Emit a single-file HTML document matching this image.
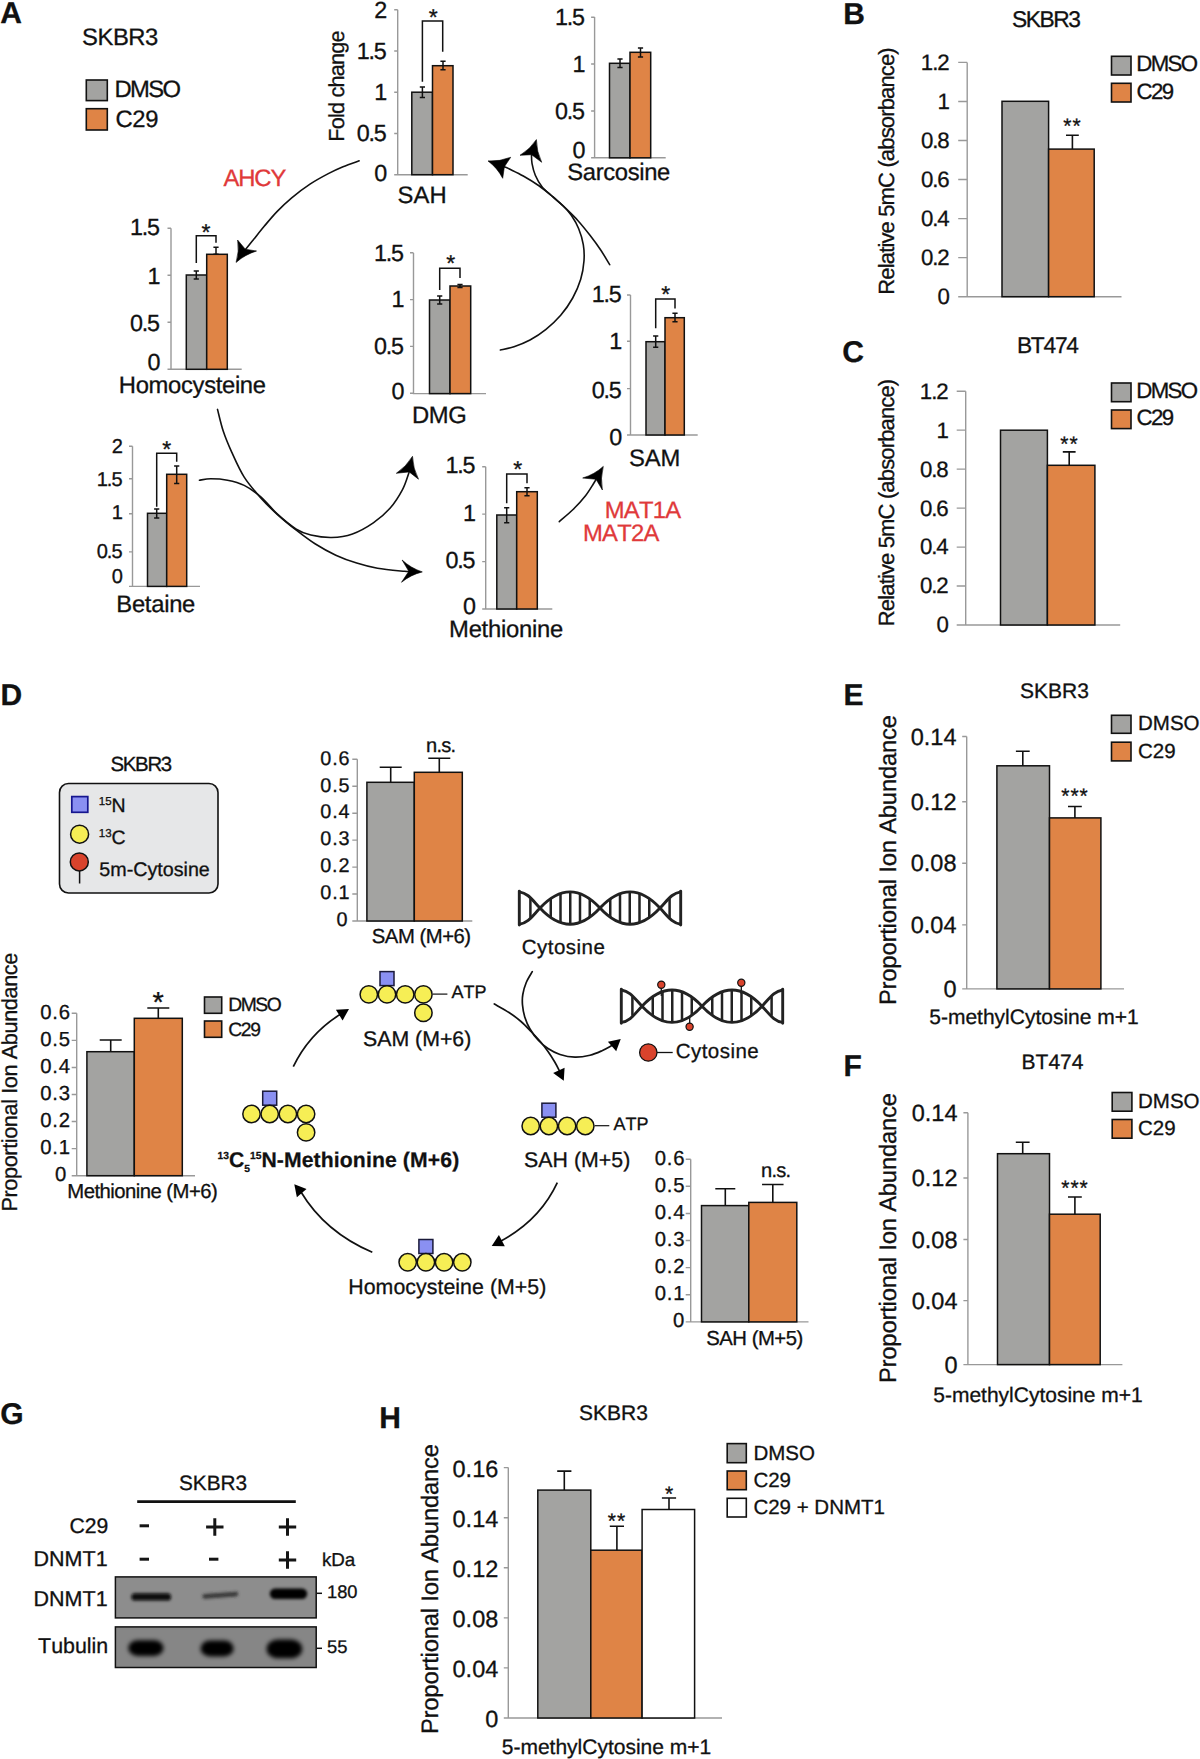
<!DOCTYPE html>
<html lang="en"><head><meta charset="utf-8"><title>Figure</title>
<style>
html,body{margin:0;padding:0;background:#fff}
svg{display:block}
svg text{font-family:"Liberation Sans", Arial, Helvetica, sans-serif;font-kerning:none;text-rendering:geometricPrecision}
</style></head><body>
<svg width="1200" height="1759" viewBox="0 0 1200 1759">
<rect width="1200" height="1759" fill="#fff"/>
<g id="panelA">
<text x="0.3" y="23" font-size="30" font-weight="bold" fill="#111" stroke="#111" stroke-width="0.3">A</text>
<text x="82.02" y="44.7" font-size="23.8" fill="#111" stroke="#111" stroke-width="0.3" letter-spacing="-0.43">SKBR3</text>
<rect x="86.3" y="80" width="21" height="20.6" fill="#a3a3a1" stroke="#111" stroke-width="1.6"/>
<rect x="86.3" y="108.7" width="21" height="21.3" fill="#df8446" stroke="#111" stroke-width="1.6"/>
<text x="114.45" y="96.9" font-size="23.8" fill="#111" stroke="#111" stroke-width="0.3" letter-spacing="-1.57">DMSO</text>
<text x="115.49" y="127.1" font-size="23.8" fill="#111" stroke="#111" stroke-width="0.3" letter-spacing="-0.36">C29</text>
<text x="223.45" y="185.9" font-size="23.8" fill="#e0393a" stroke="#e0393a" stroke-width="0.3" letter-spacing="-1.08">AHCY</text>
<text x="604.75" y="517.7" font-size="23.8" fill="#e0393a" stroke="#e0393a" stroke-width="0.3" letter-spacing="-0.76">MAT1A</text>
<text x="583.05" y="541" font-size="23.8" fill="#e0393a" stroke="#e0393a" stroke-width="0.3" letter-spacing="-0.76">MAT2A</text>
<path d="M397.7 9.8V174.7H467.7M394.2 9.8H397.7M394.2 51H397.7M394.2 92.2H397.7M394.2 133.5H397.7M394.2 174.7H397.7" stroke="#999" stroke-width="1.4" fill="none"/>
<rect x="411.8" y="92.2" width="20.7" height="82.5" fill="#a3a3a1" stroke="#111" stroke-width="1.5"/>
<rect x="432.5" y="65.7" width="20.5" height="109" fill="#df8446" stroke="#111" stroke-width="1.5"/>
<path d="M422.4 87V97.5M419.8 87H425M419.8 97.5H425" stroke="#111" stroke-width="1.5" fill="none"/>
<path d="M443 61.2V69.7M440.4 61.2H445.6M440.4 69.7H445.6" stroke="#111" stroke-width="1.5" fill="none"/>
<path d="M422.4 81.7V21H442.7V51.7" stroke="#111" stroke-width="1.5" fill="none"/>
<text x="428.72" y="24.59" font-size="23" fill="#111" stroke="#111" stroke-width="0.3">*</text>
<text x="374.23" y="18.2" font-size="23.33" fill="#111" stroke="#111" stroke-width="0.3">2</text>
<text x="356.67" y="59.2" font-size="23.33" fill="#111" stroke="#111" stroke-width="0.3" letter-spacing="-1.16">1.5</text>
<text x="374.21" y="100.2" font-size="23.33" fill="#111" stroke="#111" stroke-width="0.3">1</text>
<text x="356.74" y="141.2" font-size="23.33" fill="#111" stroke="#111" stroke-width="0.3" letter-spacing="-1.2">0.5</text>
<text x="374.23" y="181.2" font-size="23.33" fill="#111" stroke="#111" stroke-width="0.3">0</text>
<text x="397.62" y="202.7" font-size="23.8" fill="#111" stroke="#111" stroke-width="0.3" letter-spacing="0.04">SAH</text>
<text font-size="21.7" fill="#111" stroke="#111" stroke-width="0.3" letter-spacing="-0.8" transform="translate(344 140) rotate(-90)" x="-1.78" y="0">Fold change</text>
<path d="M594.6 16.9V157.8H665.7M591.1 17.2H594.6M591.1 64H594.6M591.1 111H594.6M591.1 157.8H594.6" stroke="#999" stroke-width="1.4" fill="none"/>
<rect x="609.5" y="63.3" width="20.5" height="94.5" fill="#a3a3a1" stroke="#111" stroke-width="1.5"/>
<rect x="630" y="52.3" width="20.7" height="105.5" fill="#df8446" stroke="#111" stroke-width="1.5"/>
<path d="M620 59V67.5M617.4 59H622.6M617.4 67.5H622.6" stroke="#111" stroke-width="1.5" fill="none"/>
<path d="M640.5 48V57M637.9 48H643.1M637.9 57H643.1" stroke="#111" stroke-width="1.5" fill="none"/>
<text x="554.97" y="24.9" font-size="23.33" fill="#111" stroke="#111" stroke-width="0.3" letter-spacing="-1.16">1.5</text>
<text x="572.51" y="71.7" font-size="23.33" fill="#111" stroke="#111" stroke-width="0.3">1</text>
<text x="555.04" y="119" font-size="23.33" fill="#111" stroke="#111" stroke-width="0.3" letter-spacing="-1.2">0.5</text>
<text x="572.53" y="158.2" font-size="23.33" fill="#111" stroke="#111" stroke-width="0.3">0</text>
<text x="567.22" y="180" font-size="23.8" fill="#111" stroke="#111" stroke-width="0.3" letter-spacing="-0.34">Sarcosine</text>
<path d="M171 228.3V369.3H241.7M167.5 228.3H171M167.5 275.3H171M167.5 322.3H171M167.5 369.3H171" stroke="#999" stroke-width="1.4" fill="none"/>
<rect x="186.3" y="275" width="20.4" height="94.3" fill="#a3a3a1" stroke="#111" stroke-width="1.5"/>
<rect x="206.7" y="254.3" width="20.6" height="115" fill="#df8446" stroke="#111" stroke-width="1.5"/>
<path d="M196.3 271V279M193.7 271H198.9M193.7 279H198.9" stroke="#111" stroke-width="1.5" fill="none"/>
<path d="M216 247.3V254.3M213.4 247.3H218.6M213.4 254.3H218.6" stroke="#111" stroke-width="1.5" fill="none"/>
<path d="M196.3 263V235.7H216V242.7" stroke="#111" stroke-width="1.5" fill="none"/>
<text x="201.52" y="239.59" font-size="23" fill="#111" stroke="#111" stroke-width="0.3">*</text>
<text x="129.97" y="235.4" font-size="23.33" fill="#111" stroke="#111" stroke-width="0.3" letter-spacing="-1.16">1.5</text>
<text x="147.51" y="283.7" font-size="23.33" fill="#111" stroke="#111" stroke-width="0.3">1</text>
<text x="130.04" y="331" font-size="23.33" fill="#111" stroke="#111" stroke-width="0.3" letter-spacing="-1.2">0.5</text>
<text x="147.53" y="370.4" font-size="23.33" fill="#111" stroke="#111" stroke-width="0.3">0</text>
<text x="118.85" y="392.6" font-size="23.8" fill="#111" stroke="#111" stroke-width="0.3" letter-spacing="-0.33">Homocysteine</text>
<path d="M413.5 252.9V393.6H486M410 252.7H413.5M410 299.6H413.5M410 346.4H413.5M410 393.3H413.5" stroke="#999" stroke-width="1.4" fill="none"/>
<rect x="429.5" y="300" width="20.5" height="93.6" fill="#a3a3a1" stroke="#111" stroke-width="1.5"/>
<rect x="450" y="286" width="20.7" height="107.6" fill="#df8446" stroke="#111" stroke-width="1.5"/>
<path d="M439.7 296V304M437.1 296H442.3M437.1 304H442.3" stroke="#111" stroke-width="1.5" fill="none"/>
<path d="M460 284.5V287.5M457.4 284.5H462.6M457.4 287.5H462.6" stroke="#111" stroke-width="1.5" fill="none"/>
<path d="M439.7 290V268.3H460V278" stroke="#111" stroke-width="1.5" fill="none"/>
<text x="446.22" y="271.09" font-size="23" fill="#111" stroke="#111" stroke-width="0.3">*</text>
<text x="373.97" y="260.7" font-size="23.33" fill="#111" stroke="#111" stroke-width="0.3" letter-spacing="-1.16">1.5</text>
<text x="391.51" y="307" font-size="23.33" fill="#111" stroke="#111" stroke-width="0.3">1</text>
<text x="374.04" y="353.7" font-size="23.33" fill="#111" stroke="#111" stroke-width="0.3" letter-spacing="-1.2">0.5</text>
<text x="391.53" y="399.4" font-size="23.33" fill="#111" stroke="#111" stroke-width="0.3">0</text>
<text x="412.05" y="423.3" font-size="23.8" fill="#111" stroke="#111" stroke-width="0.3" letter-spacing="-0.4">DMG</text>
<path d="M630.5 295V435H697.7M627 295H630.5M627 341.3H630.5M627 388.6H630.5M627 435H630.5" stroke="#999" stroke-width="1.4" fill="none"/>
<rect x="646" y="341.7" width="19" height="93.3" fill="#a3a3a1" stroke="#111" stroke-width="1.5"/>
<rect x="665" y="317.7" width="19.3" height="117.3" fill="#df8446" stroke="#111" stroke-width="1.5"/>
<path d="M655.7 336V347.3M653.1 336H658.3M653.1 347.3H658.3" stroke="#111" stroke-width="1.5" fill="none"/>
<path d="M675 313.3V321.7M672.4 313.3H677.6M672.4 321.7H677.6" stroke="#111" stroke-width="1.5" fill="none"/>
<path d="M655.7 328.3V299H675V308.5" stroke="#111" stroke-width="1.5" fill="none"/>
<text x="661.22" y="301.59" font-size="23" fill="#111" stroke="#111" stroke-width="0.3">*</text>
<text x="591.67" y="301.7" font-size="23.33" fill="#111" stroke="#111" stroke-width="0.3" letter-spacing="-1.16">1.5</text>
<text x="609.21" y="349" font-size="23.33" fill="#111" stroke="#111" stroke-width="0.3">1</text>
<text x="591.74" y="397.7" font-size="23.33" fill="#111" stroke="#111" stroke-width="0.3" letter-spacing="-1.2">0.5</text>
<text x="609.23" y="445" font-size="23.33" fill="#111" stroke="#111" stroke-width="0.3">0</text>
<text x="628.92" y="465.5" font-size="23.8" fill="#111" stroke="#111" stroke-width="0.3" letter-spacing="-0.12">SAM</text>
<path d="M485.7 466.7V609H552.3M482.2 466.7H485.7M482.2 514.1H485.7M482.2 561.6H485.7M482.2 609H485.7" stroke="#999" stroke-width="1.4" fill="none"/>
<rect x="496.8" y="515" width="19.9" height="94" fill="#a3a3a1" stroke="#111" stroke-width="1.5"/>
<rect x="516.7" y="491.7" width="20.6" height="117.3" fill="#df8446" stroke="#111" stroke-width="1.5"/>
<path d="M506.7 507.7V522.7M504.1 507.7H509.3M504.1 522.7H509.3" stroke="#111" stroke-width="1.5" fill="none"/>
<path d="M527 487.7V495.7M524.4 487.7H529.6M524.4 495.7H529.6" stroke="#111" stroke-width="1.5" fill="none"/>
<path d="M506.7 503.3V474H527V483.3" stroke="#111" stroke-width="1.5" fill="none"/>
<text x="513.22" y="476.59" font-size="23" fill="#111" stroke="#111" stroke-width="0.3">*</text>
<text x="445.47" y="472.7" font-size="23.33" fill="#111" stroke="#111" stroke-width="0.3" letter-spacing="-1.16">1.5</text>
<text x="463.01" y="521" font-size="23.33" fill="#111" stroke="#111" stroke-width="0.3">1</text>
<text x="445.54" y="567.7" font-size="23.33" fill="#111" stroke="#111" stroke-width="0.3" letter-spacing="-1.2">0.5</text>
<text x="463.03" y="613.7" font-size="23.33" fill="#111" stroke="#111" stroke-width="0.3">0</text>
<text x="449.05" y="636.7" font-size="23.8" fill="#111" stroke="#111" stroke-width="0.3" letter-spacing="-0.24">Methionine</text>
<path d="M132.5 446.3V586.4H200M129 446.3H132.5M129 478.8H132.5M129 513.8H132.5M129 551.9H132.5M129 586.4H132.5" stroke="#999" stroke-width="1.4" fill="none"/>
<rect x="147.5" y="513.3" width="19.2" height="73.1" fill="#a3a3a1" stroke="#111" stroke-width="1.5"/>
<rect x="166.7" y="474.3" width="20" height="112.1" fill="#df8446" stroke="#111" stroke-width="1.5"/>
<path d="M156.7 509V518M154.1 509H159.3M154.1 518H159.3" stroke="#111" stroke-width="1.5" fill="none"/>
<path d="M176.7 466V483.5M174.1 466H179.3M174.1 483.5H179.3" stroke="#111" stroke-width="1.5" fill="none"/>
<path d="M156.7 506.7V453.3H176.7V461.7" stroke="#111" stroke-width="1.5" fill="none"/>
<text x="162.22" y="456.79" font-size="23" fill="#111" stroke="#111" stroke-width="0.3">*</text>
<text x="111.77" y="453.32" font-size="20.07" fill="#111" stroke="#111" stroke-width="0.3">2</text>
<text x="96.66" y="485.92" font-size="20.07" fill="#111" stroke="#111" stroke-width="0.3" letter-spacing="-1">1.5</text>
<text x="111.75" y="518.82" font-size="20.07" fill="#111" stroke="#111" stroke-width="0.3">1</text>
<text x="96.72" y="558.32" font-size="20.07" fill="#111" stroke="#111" stroke-width="0.3" letter-spacing="-1.03">0.5</text>
<text x="111.77" y="583.12" font-size="20.07" fill="#111" stroke="#111" stroke-width="0.3">0</text>
<text x="116.35" y="612.3" font-size="23.8" fill="#111" stroke="#111" stroke-width="0.3" letter-spacing="-0.29">Betaine</text>
<path d="M359.1 160.8C356.42 161.78 348.13 164.57 343 166.7C337.87 168.83 333.8 170.7 328.3 173.6C322.8 176.5 316.1 180.07 310 184.1C303.9 188.13 297.2 193.22 291.7 197.8C286.2 202.38 281.58 206.85 277 211.6C272.42 216.35 268.17 221.57 264.2 226.3C260.23 231.03 256.32 236.13 253.2 240C250.08 243.87 246.78 247.92 245.5 249.5" stroke="#111" stroke-width="1.6" fill="none" stroke-linecap="round"/>
<path d="M236.1 262.4Q239.47 251.17 237.6 240L245.3 249.2L256.5 251Q245.14 254.47 236.1 262.4Z" fill="#000" stroke="#000" stroke-width="0.6" stroke-linejoin="round"/>
<path d="M217.5 409.4C218.47 413.05 220.93 424.18 223.3 431.3C225.67 438.42 228.22 444.47 231.7 452.1C235.18 459.73 239.35 469.47 244.2 477.1C249.05 484.73 255.25 491.65 260.8 497.9C266.35 504.15 271.58 509.22 277.5 514.6C283.42 519.98 290.05 525.33 296.3 530.2C302.55 535.07 308.42 539.63 315 543.8C321.58 547.97 328.85 551.98 335.8 555.2C342.75 558.42 349.75 560.92 356.7 563.1C363.65 565.28 369.52 566.93 377.5 568.3C385.48 569.67 399.35 570.78 404.6 571.3C409.85 571.82 408.27 571.38 409 571.4" stroke="#111" stroke-width="1.6" fill="none" stroke-linecap="round"/>
<path d="M422.3 571.9Q410.77 568.13 402.1 560L408.8 571.3L401.5 582.3Q410.59 574.82 422.3 571.9Z" fill="#000" stroke="#000" stroke-width="0.6" stroke-linejoin="round"/>
<path d="M199.4 480.2C201.3 479.97 206.12 478.8 210.8 478.8C215.48 478.8 221.93 479.1 227.5 480.2C233.07 481.3 238.65 482.62 244.2 485.4C249.75 488.18 255.25 492.1 260.8 496.9C266.35 501.7 271.58 508.82 277.5 514.2C283.42 519.58 290.75 525.73 296.3 529.2C301.85 532.67 304.9 533.62 310.8 535C316.7 536.38 324.75 537.67 331.7 537.5C338.65 537.33 345.57 536.43 352.5 534C359.43 531.57 367.05 527.18 373.3 522.9C379.55 518.62 385.13 513.85 390 508.3C394.87 502.75 399.33 495.57 402.5 489.6C405.67 483.63 407.92 475.35 409 472.5" stroke="#111" stroke-width="1.6" fill="none" stroke-linecap="round"/>
<path d="M412.5 456.3Q406.28 466.72 396.3 473.3L409.2 471.9L418.5 479.2Q412.94 468.49 412.5 456.3Z" fill="#000" stroke="#000" stroke-width="0.6" stroke-linejoin="round"/>
<path d="M500.4 350C502.67 349.45 509.07 348.37 514 346.7C518.93 345.03 524.67 342.9 530 340C535.33 337.1 540.88 333.42 546 329.3C551.12 325.18 556.25 320.52 560.7 315.3C565.15 310.08 569.37 304 572.7 298C576.03 292 578.82 285.52 580.7 279.3C582.58 273.08 583.57 266.47 584 260.7C584.43 254.93 584.18 250.03 583.3 244.7C582.42 239.37 580.7 233.6 578.7 228.7C576.7 223.8 573.87 219.08 571.3 215.3C568.73 211.52 566.4 209.1 563.3 206C560.2 202.9 556.25 199.92 552.7 196.7C549.15 193.48 544.9 190.27 542 186.7C539.1 183.13 536.97 179.2 535.3 175.3C533.63 171.4 532.63 166.68 532 163.3C531.37 159.92 531.58 156.38 531.5 155" stroke="#111" stroke-width="1.6" fill="none" stroke-linecap="round"/>
<path d="M536.4 139.6Q530 149.43 520 155.3L531.6 154.7L541.7 162.3Q536.51 151.53 536.4 139.6Z" fill="#000" stroke="#000" stroke-width="0.6" stroke-linejoin="round"/>
<path d="M609.7 264.7C608.2 262.25 603.98 254.9 600.7 250C597.42 245.1 593.78 240.18 590 235.3C586.22 230.42 582 225.13 578 220.7C574 216.27 570.22 212.7 566 208.7C561.78 204.7 557.15 200.48 552.7 196.7C548.25 192.92 544.2 189.45 539.3 186C534.4 182.55 528.18 178.78 523.3 176C518.42 173.22 513.18 170.85 510 169.3C506.82 167.75 505.17 167.13 504.2 166.7" stroke="#111" stroke-width="1.6" fill="none" stroke-linecap="round"/>
<path d="M488 160.9Q499.8 161.66 510.7 157.3L504.4 166.7L502.7 178.3Q497.4 167.96 488 160.9Z" fill="#000" stroke="#000" stroke-width="0.6" stroke-linejoin="round"/>
<path d="M559.3 521.6C561.63 519.55 568.97 513.57 573.3 509.3C577.63 505.03 581.97 500.22 585.3 496C588.63 491.78 591.52 486.75 593.3 484C595.08 481.25 595.55 480.25 596 479.5" stroke="#111" stroke-width="1.6" fill="none" stroke-linecap="round"/>
<path d="M603.3 466.4Q594.25 474.57 582.7 478L596 479.3L602.4 490Q600.16 478.17 603.3 466.4Z" fill="#000" stroke="#000" stroke-width="0.6" stroke-linejoin="round"/>
</g>
<g id="panelBC">
<text x="843.3" y="24" font-size="30" font-weight="bold" fill="#111" stroke="#111" stroke-width="0.3">B</text>
<text x="1011.99" y="27" font-size="22.79" fill="#111" stroke="#111" stroke-width="0.3" letter-spacing="-1.42">SKBR3</text>
<path d="M967.2 62.4V296.7H1121.5M958.2 62.4H967.2M958.2 101.45H967.2M958.2 140.5H967.2M958.2 179.55H967.2M958.2 218.6H967.2M958.2 257.65H967.2M958.2 296.7H967.2" stroke="#999" stroke-width="1.4" fill="none"/>
<text x="920.87" y="69.8" font-size="22.24" fill="#111" stroke="#111" stroke-width="0.3" letter-spacing="-1.1">1.2</text>
<text x="937.59" y="108.85" font-size="22.24" fill="#111" stroke="#111" stroke-width="0.3">1</text>
<text x="920.93" y="147.9" font-size="22.24" fill="#111" stroke="#111" stroke-width="0.3" letter-spacing="-1.14">0.8</text>
<text x="920.93" y="186.95" font-size="22.24" fill="#111" stroke="#111" stroke-width="0.3" letter-spacing="-1.14">0.6</text>
<text x="920.93" y="226" font-size="22.24" fill="#111" stroke="#111" stroke-width="0.3" letter-spacing="-1.15">0.4</text>
<text x="920.93" y="265.05" font-size="22.24" fill="#111" stroke="#111" stroke-width="0.3" letter-spacing="-1.13">0.2</text>
<text x="937.61" y="304.1" font-size="22.24" fill="#111" stroke="#111" stroke-width="0.3">0</text>
<rect x="1002" y="101.3" width="46.6" height="195.4" fill="#a3a3a1" stroke="#111" stroke-width="1.5"/>
<rect x="1048.6" y="149.1" width="45.6" height="147.6" fill="#df8446" stroke="#111" stroke-width="1.5"/>
<path d="M1072.4 149.1V135.2M1066 135.2H1078.8" stroke="#111" stroke-width="1.6" fill="none"/>
<text x="1063.23" y="132.56" font-size="21" fill="#111" letter-spacing="1" stroke="#111" stroke-width="0.3">**</text>
<rect x="1111.5" y="56.3" width="19.5" height="18.7" fill="#a3a3a1" stroke="#111" stroke-width="1.6"/>
<rect x="1111.5" y="83.3" width="19.5" height="18.7" fill="#df8446" stroke="#111" stroke-width="1.6"/>
<text x="1136.36" y="71.2" font-size="22.24" fill="#111" stroke="#111" stroke-width="0.3" letter-spacing="-1.67">DMSO</text>
<text x="1136.41" y="98.8" font-size="22.24" fill="#111" stroke="#111" stroke-width="0.3" letter-spacing="-1.51">C29</text>
<text x="-123.69" y="0" font-size="22.03" fill="#111" stroke="#111" stroke-width="0.3" letter-spacing="-0.86" transform="translate(893.5 171) rotate(-90)">Relative 5mC (absorbance)</text>
<text x="842.3" y="361.6" font-size="30" font-weight="bold" fill="#111" stroke="#111" stroke-width="0.3">C</text>
<text x="1016.92" y="353.2" font-size="22.79" fill="#111" stroke="#111" stroke-width="0.3" letter-spacing="-1.27">BT474</text>
<path d="M965.7 391.2V625H1120.2M956.7 391.2H965.7M956.7 430.17H965.7M956.7 469.14H965.7M956.7 508.11H965.7M956.7 547.08H965.7M956.7 586.05H965.7M956.7 625.02H965.7" stroke="#999" stroke-width="1.4" fill="none"/>
<text x="919.87" y="398.6" font-size="22.24" fill="#111" stroke="#111" stroke-width="0.3" letter-spacing="-1.1">1.2</text>
<text x="936.59" y="437.57" font-size="22.24" fill="#111" stroke="#111" stroke-width="0.3">1</text>
<text x="919.93" y="476.54" font-size="22.24" fill="#111" stroke="#111" stroke-width="0.3" letter-spacing="-1.14">0.8</text>
<text x="919.93" y="515.51" font-size="22.24" fill="#111" stroke="#111" stroke-width="0.3" letter-spacing="-1.14">0.6</text>
<text x="919.93" y="554.48" font-size="22.24" fill="#111" stroke="#111" stroke-width="0.3" letter-spacing="-1.15">0.4</text>
<text x="919.93" y="593.45" font-size="22.24" fill="#111" stroke="#111" stroke-width="0.3" letter-spacing="-1.13">0.2</text>
<text x="936.61" y="632.42" font-size="22.24" fill="#111" stroke="#111" stroke-width="0.3">0</text>
<rect x="1000.5" y="430.2" width="46.9" height="194.8" fill="#a3a3a1" stroke="#111" stroke-width="1.5"/>
<rect x="1047.4" y="465.3" width="47.5" height="159.7" fill="#df8446" stroke="#111" stroke-width="1.5"/>
<path d="M1069.2 465.3V451.9M1062.8 451.9H1075.6" stroke="#111" stroke-width="1.6" fill="none"/>
<text x="1060.33" y="451.06" font-size="21" fill="#111" letter-spacing="1" stroke="#111" stroke-width="0.3">**</text>
<rect x="1111.5" y="383" width="19.5" height="18.7" fill="#a3a3a1" stroke="#111" stroke-width="1.6"/>
<rect x="1111.5" y="410" width="19.5" height="18.6" fill="#df8446" stroke="#111" stroke-width="1.6"/>
<text x="1136.36" y="398.2" font-size="22.24" fill="#111" stroke="#111" stroke-width="0.3" letter-spacing="-1.67">DMSO</text>
<text x="1136.41" y="425.4" font-size="22.24" fill="#111" stroke="#111" stroke-width="0.3" letter-spacing="-1.51">C29</text>
<text x="-123.69" y="0" font-size="22.03" fill="#111" stroke="#111" stroke-width="0.3" letter-spacing="-0.86" transform="translate(893.5 502.5) rotate(-90)">Relative 5mC (absorbance)</text>
</g>
<g id="panelD">
<text x="0.5" y="705.3" font-size="30" font-weight="bold" fill="#111" stroke="#111" stroke-width="0.3">D</text>
<text x="110.4" y="771" font-size="20.4" fill="#111" stroke="#111" stroke-width="0.3" letter-spacing="-1.27">SKBR3</text>
<rect x="59.5" y="783.5" width="158.5" height="109.5" rx="9" ry="9" fill="#e6e7e8" stroke="#111" stroke-width="1.6"/>
<rect x="71.8" y="796.6" width="16" height="15.7" fill="#8a90f2" stroke="#16168f" stroke-width="1.7"/>
<circle cx="79.6" cy="834.2" r="9" fill="#f6ee55" stroke="#111" stroke-width="1.5"/>
<line x1="79.6" y1="870" x2="79.6" y2="883.5" stroke="#111" stroke-width="1.5"/>
<circle cx="79.3" cy="861.9" r="9" fill="#d9432c" stroke="#111" stroke-width="1.5"/>
<text x="98.8" y="811.7" font-size="19.5" fill="#111" stroke="#111" stroke-width="0.3"><tspan font-size="11.5" dy="-7">15</tspan><tspan dy="7">N</tspan></text>
<text x="98.8" y="844" font-size="19.5" fill="#111" stroke="#111" stroke-width="0.3"><tspan font-size="11.5" dy="-7">13</tspan><tspan dy="7">C</tspan></text>
<text x="99.3" y="875.5" font-size="19.7" fill="#111" stroke="#111" stroke-width="0.3">5m-Cytosine</text>
<path d="M357.3 759.3V921H472.3M352.3 759.3H357.3M352.3 786.25H357.3M352.3 813.2H357.3M352.3 840.15H357.3M352.3 867.1H357.3M352.3 894.05H357.3M352.3 921H357.3" stroke="#999" stroke-width="1.4" fill="none"/>
<rect x="366.9" y="782.3" width="47.4" height="138.7" fill="#a3a3a1" stroke="#111" stroke-width="1.5"/>
<rect x="414.3" y="772.3" width="48" height="148.7" fill="#df8446" stroke="#111" stroke-width="1.5"/>
<path d="M390.7 782.3V767.3M379.7 767.3H401.7" stroke="#111" stroke-width="1.6" fill="none"/>
<path d="M439.3 772.3V758.3M428.3 758.3H450.3" stroke="#111" stroke-width="1.6" fill="none"/>
<text x="320.35" y="764.55" font-size="19.82" fill="#111" stroke="#111" stroke-width="0.3" letter-spacing="0.77">0.6</text>
<text x="320.35" y="791.5" font-size="19.82" fill="#111" stroke="#111" stroke-width="0.3" letter-spacing="0.77">0.5</text>
<text x="320.35" y="818.45" font-size="19.82" fill="#111" stroke="#111" stroke-width="0.3" letter-spacing="0.78">0.4</text>
<text x="320.35" y="845.4" font-size="19.82" fill="#111" stroke="#111" stroke-width="0.3" letter-spacing="0.77">0.3</text>
<text x="320.35" y="872.35" font-size="19.82" fill="#111" stroke="#111" stroke-width="0.3" letter-spacing="0.76">0.2</text>
<text x="320.35" y="899.3" font-size="19.82" fill="#111" stroke="#111" stroke-width="0.3" letter-spacing="0.77">0.1</text>
<text x="336.45" y="926.25" font-size="19.82" fill="#111" stroke="#111" stroke-width="0.3">0</text>
<text x="371.78" y="942.7" font-size="20.3" fill="#111" stroke="#111" stroke-width="0.3" letter-spacing="-0.47">SAM (M+6)</text>
<text x="425.99" y="751.7" font-size="20.07" fill="#111" stroke="#111" stroke-width="0.3" letter-spacing="-0.76">n.s.</text>
<path d="M76.7 1013.3V1175.7H195M71.7 1013.3H76.7M71.7 1040.37H76.7M71.7 1067.43H76.7M71.7 1094.5H76.7M71.7 1121.57H76.7M71.7 1148.63H76.7M71.7 1175.7H76.7" stroke="#999" stroke-width="1.4" fill="none"/>
<rect x="86.9" y="1051.7" width="47.4" height="124" fill="#a3a3a1" stroke="#111" stroke-width="1.5"/>
<rect x="134.3" y="1018.3" width="48" height="157.4" fill="#df8446" stroke="#111" stroke-width="1.5"/>
<path d="M110.7 1051.7V1040M99.7 1040H121.7" stroke="#111" stroke-width="1.6" fill="none"/>
<path d="M158.3 1018.3V1008M147.3 1008H169.3" stroke="#111" stroke-width="1.6" fill="none"/>
<text x="40.16" y="1018.67" font-size="20.3" fill="#111" stroke="#111" stroke-width="0.3" letter-spacing="0.79">0.6</text>
<text x="40.16" y="1045.74" font-size="20.3" fill="#111" stroke="#111" stroke-width="0.3" letter-spacing="0.79">0.5</text>
<text x="40.16" y="1072.81" font-size="20.3" fill="#111" stroke="#111" stroke-width="0.3" letter-spacing="0.8">0.4</text>
<text x="40.16" y="1099.88" font-size="20.3" fill="#111" stroke="#111" stroke-width="0.3" letter-spacing="0.79">0.3</text>
<text x="40.16" y="1126.94" font-size="20.3" fill="#111" stroke="#111" stroke-width="0.3" letter-spacing="0.78">0.2</text>
<text x="40.16" y="1154.01" font-size="20.3" fill="#111" stroke="#111" stroke-width="0.3" letter-spacing="0.78">0.1</text>
<text x="55.08" y="1181.08" font-size="20.3" fill="#111" stroke="#111" stroke-width="0.3">0</text>
<text x="67.33" y="1198.3" font-size="20.3" fill="#111" stroke="#111" stroke-width="0.3" letter-spacing="-0.53">Methionine (M+6)</text>
<text x="152.56" y="1011.86" font-size="29" fill="#111" stroke="#111" stroke-width="0.3">*</text>
<text font-size="21.7" fill="#111" stroke="#111" stroke-width="0.3" letter-spacing="-0.4" transform="translate(17.2 1209.8) rotate(-90)" x="-1.78" y="0">Proportional Ion Abundance</text>
<rect x="204.5" y="997" width="17.2" height="16.3" fill="#a3a3a1" stroke="#111" stroke-width="1.6"/>
<rect x="204.5" y="1021" width="17.2" height="16.3" fill="#df8446" stroke="#111" stroke-width="1.6"/>
<text x="228.18" y="1011" font-size="19.31" fill="#111" stroke="#111" stroke-width="0.3" letter-spacing="-1.45">DMSO</text>
<text x="228.22" y="1035.7" font-size="19.31" fill="#111" stroke="#111" stroke-width="0.3" letter-spacing="-1.31">C29</text>
<path d="M690.7 1159.2V1321.9H808.5M685.7 1159.2H690.7M685.7 1186.32H690.7M685.7 1213.43H690.7M685.7 1240.55H690.7M685.7 1267.67H690.7M685.7 1294.78H690.7M685.7 1321.9H690.7" stroke="#999" stroke-width="1.4" fill="none"/>
<rect x="701.5" y="1205.6" width="47.3" height="116.3" fill="#a3a3a1" stroke="#111" stroke-width="1.5"/>
<rect x="748.8" y="1202.4" width="48" height="119.5" fill="#df8446" stroke="#111" stroke-width="1.5"/>
<path d="M725.3 1205.6V1188.8M715.3 1188.8H735.3" stroke="#111" stroke-width="1.6" fill="none"/>
<path d="M772.8 1202.4V1184.5M762.05 1184.5H783.55" stroke="#111" stroke-width="1.6" fill="none"/>
<text x="654.66" y="1164.58" font-size="20.3" fill="#111" stroke="#111" stroke-width="0.3" letter-spacing="0.79">0.6</text>
<text x="654.66" y="1191.69" font-size="20.3" fill="#111" stroke="#111" stroke-width="0.3" letter-spacing="0.79">0.5</text>
<text x="654.66" y="1218.81" font-size="20.3" fill="#111" stroke="#111" stroke-width="0.3" letter-spacing="0.8">0.4</text>
<text x="654.66" y="1245.93" font-size="20.3" fill="#111" stroke="#111" stroke-width="0.3" letter-spacing="0.79">0.3</text>
<text x="654.66" y="1273.04" font-size="20.3" fill="#111" stroke="#111" stroke-width="0.3" letter-spacing="0.78">0.2</text>
<text x="654.66" y="1300.16" font-size="20.3" fill="#111" stroke="#111" stroke-width="0.3" letter-spacing="0.78">0.1</text>
<text x="672.88" y="1327.28" font-size="20.3" fill="#111" stroke="#111" stroke-width="0.3">0</text>
<text x="706.28" y="1344.8" font-size="20.3" fill="#111" stroke="#111" stroke-width="0.3" letter-spacing="-0.48">SAH (M+5)</text>
<text x="760.99" y="1176.5" font-size="20.07" fill="#111" stroke="#111" stroke-width="0.3" letter-spacing="-0.76">n.s.</text>
<rect x="380" y="971.6" width="14" height="14" fill="#8a90f2" stroke="#1a1a3a" stroke-width="1.5"/>
<circle cx="423.4" cy="1012.8" r="8.7" fill="#f6ee55" stroke="#111" stroke-width="1.5"/>
<circle cx="368.8" cy="994.4" r="8.7" fill="#f6ee55" stroke="#111" stroke-width="1.5"/>
<circle cx="387" cy="994.4" r="8.7" fill="#f6ee55" stroke="#111" stroke-width="1.5"/>
<circle cx="405.2" cy="994.4" r="8.7" fill="#f6ee55" stroke="#111" stroke-width="1.5"/>
<circle cx="423.4" cy="994.4" r="8.7" fill="#f6ee55" stroke="#111" stroke-width="1.5"/>
<line x1="432.8" y1="994.1" x2="447.4" y2="994.1" stroke="#111" stroke-width="1.2"/>
<text x="451.5" y="998" font-size="18" fill="#111" stroke="#111" stroke-width="0.3">ATP</text>
<text x="363.03" y="1046.2" font-size="21.3" fill="#111" stroke="#111" stroke-width="0.3">SAM (M+6)</text>
<rect x="262.7" y="1091.2" width="14" height="14" fill="#8a90f2" stroke="#1a1a3a" stroke-width="1.5"/>
<circle cx="306.1" cy="1132.4" r="8.7" fill="#f6ee55" stroke="#111" stroke-width="1.5"/>
<circle cx="251.5" cy="1114" r="8.7" fill="#f6ee55" stroke="#111" stroke-width="1.5"/>
<circle cx="269.7" cy="1114" r="8.7" fill="#f6ee55" stroke="#111" stroke-width="1.5"/>
<circle cx="287.9" cy="1114" r="8.7" fill="#f6ee55" stroke="#111" stroke-width="1.5"/>
<circle cx="306.1" cy="1114" r="8.7" fill="#f6ee55" stroke="#111" stroke-width="1.5"/>
<text x="217.5" y="1167.3" font-size="21.2" font-weight="bold" fill="#111" stroke="#111" stroke-width="0.25"><tspan font-size="10.3" dy="-8.8">13</tspan><tspan dy="8.8">C</tspan><tspan font-size="10.3" dy="4.6">5</tspan><tspan font-size="10.3" dy="-13.4">15</tspan><tspan dy="8.8" x="261.38" letter-spacing="0.11">N-Methionine (M+6)</tspan></text>
<rect x="541.9" y="1103.2" width="14" height="14" fill="#8a90f2" stroke="#1a1a3a" stroke-width="1.5"/>
<circle cx="530.7" cy="1126" r="8.7" fill="#f6ee55" stroke="#111" stroke-width="1.5"/>
<circle cx="548.9" cy="1126" r="8.7" fill="#f6ee55" stroke="#111" stroke-width="1.5"/>
<circle cx="567.1" cy="1126" r="8.7" fill="#f6ee55" stroke="#111" stroke-width="1.5"/>
<circle cx="585.3" cy="1126" r="8.7" fill="#f6ee55" stroke="#111" stroke-width="1.5"/>
<line x1="594.7" y1="1125.7" x2="609.3" y2="1125.7" stroke="#111" stroke-width="1.2"/>
<text x="613.4" y="1129.6" font-size="18" fill="#111" stroke="#111" stroke-width="0.3">ATP</text>
<text x="524.03" y="1166.8" font-size="21.3" fill="#111" stroke="#111" stroke-width="0.3" letter-spacing="0.05">SAH (M+5)</text>
<rect x="418.9" y="1239.5" width="14" height="14" fill="#8a90f2" stroke="#1a1a3a" stroke-width="1.5"/>
<circle cx="407.7" cy="1262.3" r="8.7" fill="#f6ee55" stroke="#111" stroke-width="1.5"/>
<circle cx="425.9" cy="1262.3" r="8.7" fill="#f6ee55" stroke="#111" stroke-width="1.5"/>
<circle cx="444.1" cy="1262.3" r="8.7" fill="#f6ee55" stroke="#111" stroke-width="1.5"/>
<circle cx="462.3" cy="1262.3" r="8.7" fill="#f6ee55" stroke="#111" stroke-width="1.5"/>
<text x="348.25" y="1294.3" font-size="21.3" fill="#111" stroke="#111" stroke-width="0.3" letter-spacing="0.06">Homocysteine (M+5)</text>
<path d="M519.3 891.9C528.3 893.1 532.5 900.3 540 908.1C560 929.7 580 929.7 600 908.1C620 886.5 640 886.5 660 908.1C667.5 915.9 671.7 923.1 680.7 924.3" stroke="#222" stroke-width="2.9" fill="none"/>
<path d="M519.3 924.3C528.3 923.1 532.5 915.9 540 908.1C560 886.5 580 886.5 600 908.1C620 929.7 640 929.7 660 908.1C667.5 900.3 671.7 893.1 680.7 891.9" stroke="#222" stroke-width="2.9" fill="none"/>
<path d="M519.3 891.1V925.1M680.7 891.1V925.1" stroke="#222" stroke-width="2.9" fill="none" stroke-linecap="round"/>
<path d="M550.75 898.57V917.63M560.5 893.52V922.68M570.25 891.9V924.3M580 893.7V922.5M589.75 898.92V917.28M610.25 898.92V917.28M620 893.7V922.5M629.75 891.9V924.3M639.5 893.52V922.68M649.25 898.57V917.63M530.4 898.5V917.7M669.6 898.5V917.7" stroke="#222" stroke-width="2.5" fill="none"/>
<text x="521.66" y="954.3" font-size="20.5" fill="#111" stroke="#111" stroke-width="0.3" letter-spacing="0.5">Cytosine</text>
<line x1="661.3" y1="985" x2="661.3" y2="996" stroke="#111" stroke-width="1.3"/>
<line x1="741.3" y1="983" x2="741.3" y2="994" stroke="#111" stroke-width="1.3"/>
<line x1="689.7" y1="1017" x2="689.7" y2="1026.5" stroke="#111" stroke-width="1.3"/>
<path d="M621.3 990C630.3 991.2 634.5 998.4 642 1006.2C662 1027.8 682 1027.8 702 1006.2C722 984.6 742 984.6 762 1006.2C769.5 1014 773.7 1021.2 782.7 1022.4" stroke="#222" stroke-width="2.9" fill="none"/>
<path d="M621.3 1022.4C630.3 1021.2 634.5 1014 642 1006.2C662 984.6 682 984.6 702 1006.2C722 1027.8 742 1027.8 762 1006.2C769.5 998.4 773.7 991.2 782.7 990" stroke="#222" stroke-width="2.9" fill="none"/>
<path d="M621.3 989.2V1023.2M782.7 989.2V1023.2" stroke="#222" stroke-width="2.9" fill="none" stroke-linecap="round"/>
<path d="M652.75 996.67V1015.73M662.5 991.62V1020.78M672.25 990V1022.4M682 991.8V1020.6M691.75 997.02V1015.38M712.25 997.02V1015.38M722 991.8V1020.6M731.75 990V1022.4M741.5 991.62V1020.78M751.25 996.67V1015.73M632.4 996.6V1015.8M771.6 996.6V1015.8" stroke="#222" stroke-width="2.5" fill="none"/>
<circle cx="661.3" cy="984.7" r="3.6" fill="#d9432c" stroke="#111" stroke-width="1.2"/>
<circle cx="741.3" cy="982.8" r="3.6" fill="#d9432c" stroke="#111" stroke-width="1.2"/>
<circle cx="689.6" cy="1026.7" r="3.6" fill="#d9432c" stroke="#111" stroke-width="1.2"/>
<line x1="657" y1="1052.5" x2="672.7" y2="1052.5" stroke="#111" stroke-width="1.3"/>
<circle cx="648.3" cy="1052.5" r="8.7" fill="#d9432c" stroke="#111" stroke-width="1.3"/>
<text x="675.71" y="1057.75" font-size="20.5" fill="#111" stroke="#111" stroke-width="0.3" letter-spacing="0.46">Cytosine</text>
<path d="M293.3 1066.7Q309 1034 340 1014.5" stroke="#111" stroke-width="1.7" fill="none"/>
<path d="M349 1009L342.59 1020.44L335.91 1009.75Z" fill="#000"/>
<path d="M372.3 1252.3Q325 1232 301 1192" stroke="#111" stroke-width="1.7" fill="none"/>
<path d="M294.3 1184.3L306.52 1189.06L296.87 1197.16Z" fill="#000"/>
<path d="M557.3 1182.7Q540 1220 501 1241" stroke="#111" stroke-width="1.7" fill="none"/>
<path d="M491.7 1246L498.9 1235.04L504.81 1246.16Z" fill="#000"/>
<path d="M494.3 1004C496.75 1005.42 504.55 1009.58 509 1012.5C513.45 1015.42 517.25 1018.25 521 1021.5C524.75 1024.75 528.25 1028.62 531.5 1032C534.75 1035.38 537.75 1038.5 540.5 1041.75C543.25 1045 545.62 1048.12 548 1051.5C550.38 1054.88 552.83 1058.75 554.75 1062C556.67 1065.25 558.71 1069.5 559.5 1071" stroke="#111" stroke-width="1.7" fill="none" stroke-linecap="round"/>
<path d="M563.75 1080.75L553.17 1073.01L564.58 1067.66Z" fill="#000"/>
<path d="M532.25 971.7C531.25 973.5 527.83 978.7 526.25 982.5C524.67 986.3 523.42 990.75 522.8 994.5C522.17 998.25 522.17 1001.25 522.5 1005C522.83 1008.75 523.5 1013 524.75 1017C526 1021 527.75 1025.12 530 1029C532.25 1032.88 535.25 1037 538.25 1040.25C541.25 1043.5 544.38 1046.12 548 1048.5C551.62 1050.88 555.5 1053.05 560 1054.5C564.5 1055.95 570 1057.08 575 1057.2C580 1057.33 585.5 1056.33 590 1055.25C594.5 1054.17 598.33 1052.38 602 1050.75C605.67 1049.12 610.33 1046.38 612 1045.5" stroke="#111" stroke-width="1.7" fill="none" stroke-linecap="round"/>
<path d="M620.75 1039L616.2 1051.3L607.94 1041.79Z" fill="#000"/>
</g>
<g id="panelEF">
<text x="843.5" y="705.2" font-size="30" font-weight="bold" fill="#111" stroke="#111" stroke-width="0.3">E</text>
<text x="1020.07" y="697.9" font-size="21" fill="#111" stroke="#111" stroke-width="0.3">SKBR3</text>
<path d="M966.7 736.5V988.9H1124M962.2 736.5H966.7M962.2 801.8H966.7M962.2 863.3H966.7M962.2 924.9H966.7M962.2 988.9H966.7" stroke="#999" stroke-width="1.4" fill="none"/>
<text x="910.76" y="744.6" font-size="23.5" fill="#111" stroke="#111" stroke-width="0.3">0.14</text>
<text x="910.76" y="809.9" font-size="23.5" fill="#111" stroke="#111" stroke-width="0.3">0.12</text>
<text x="910.76" y="871.4" font-size="23.5" fill="#111" stroke="#111" stroke-width="0.3">0.08</text>
<text x="910.76" y="933" font-size="23.5" fill="#111" stroke="#111" stroke-width="0.3">0.04</text>
<text x="943.43" y="997" font-size="23.5" fill="#111" stroke="#111" stroke-width="0.3">0</text>
<rect x="996.9" y="765.8" width="52.6" height="223.1" fill="#a3a3a1" stroke="#111" stroke-width="1.5"/>
<rect x="1049.5" y="817.9" width="51.4" height="171" fill="#df8446" stroke="#111" stroke-width="1.5"/>
<path d="M1022.8 765.8V751.2M1015.9 751.2H1029.7" stroke="#111" stroke-width="1.6" fill="none"/>
<path d="M1074.9 817.9V806.5M1068 806.5H1081.8" stroke="#111" stroke-width="1.6" fill="none"/>
<text x="1061.24" y="803.06" font-size="21" fill="#111" letter-spacing="1" stroke="#111" stroke-width="0.3">***</text>
<rect x="1111.5" y="715.3" width="19.5" height="18" fill="#a3a3a1" stroke="#111" stroke-width="1.6"/>
<rect x="1111.5" y="742.2" width="19.5" height="18.7" fill="#df8446" stroke="#111" stroke-width="1.6"/>
<text x="1138" y="730.2" font-size="20.5" fill="#111" stroke="#111" stroke-width="0.3">DMSO</text>
<text x="1138" y="757.7" font-size="20.5" fill="#111" stroke="#111" stroke-width="0.3">C29</text>
<text x="929.25" y="1024" font-size="21" fill="#111" stroke="#111" stroke-width="0.3">5-methylCytosine m+1</text>
<text x="-145.09" y="0" font-size="23.8" fill="#111" stroke="#111" stroke-width="0.3" letter-spacing="-0.2" transform="translate(895.5 860) rotate(-90)">Proportional Ion Abundance</text>
<text x="843.5" y="1076.2" font-size="30" font-weight="bold" fill="#111" stroke="#111" stroke-width="0.3">F</text>
<text x="1021.56" y="1069.1" font-size="21" fill="#111" stroke="#111" stroke-width="0.3">BT474</text>
<path d="M967.9 1112.8V1364.6H1122.4M963.4 1112.8H967.9M963.4 1178H967.9M963.4 1239.5H967.9M963.4 1300.6H967.9M963.4 1364.6H967.9" stroke="#999" stroke-width="1.4" fill="none"/>
<text x="911.76" y="1120.9" font-size="23.5" fill="#111" stroke="#111" stroke-width="0.3">0.14</text>
<text x="911.76" y="1186.1" font-size="23.5" fill="#111" stroke="#111" stroke-width="0.3">0.12</text>
<text x="911.76" y="1247.6" font-size="23.5" fill="#111" stroke="#111" stroke-width="0.3">0.08</text>
<text x="911.76" y="1308.7" font-size="23.5" fill="#111" stroke="#111" stroke-width="0.3">0.04</text>
<text x="944.43" y="1372.7" font-size="23.5" fill="#111" stroke="#111" stroke-width="0.3">0</text>
<rect x="997.5" y="1153.7" width="52" height="210.9" fill="#a3a3a1" stroke="#111" stroke-width="1.5"/>
<rect x="1049.5" y="1214.2" width="50.7" height="150.4" fill="#df8446" stroke="#111" stroke-width="1.5"/>
<path d="M1022.7 1153.7V1142.3M1015.8 1142.3H1029.6" stroke="#111" stroke-width="1.6" fill="none"/>
<path d="M1074.9 1214.2V1197M1068 1197H1081.8" stroke="#111" stroke-width="1.6" fill="none"/>
<text x="1061.24" y="1195.06" font-size="21" fill="#111" letter-spacing="1" stroke="#111" stroke-width="0.3">***</text>
<rect x="1112.2" y="1092.5" width="19.7" height="18.7" fill="#a3a3a1" stroke="#111" stroke-width="1.6"/>
<rect x="1112.2" y="1119.5" width="19.7" height="18.7" fill="#df8446" stroke="#111" stroke-width="1.6"/>
<text x="1138" y="1108" font-size="20.5" fill="#111" stroke="#111" stroke-width="0.3">DMSO</text>
<text x="1138" y="1135" font-size="20.5" fill="#111" stroke="#111" stroke-width="0.3">C29</text>
<text x="933.25" y="1401.6" font-size="21" fill="#111" stroke="#111" stroke-width="0.3">5-methylCytosine m+1</text>
<text x="-145.09" y="0" font-size="23.8" fill="#111" stroke="#111" stroke-width="0.3" letter-spacing="-0.2" transform="translate(895.5 1238) rotate(-90)">Proportional Ion Abundance</text>
</g>
<g id="panelGH">
<defs><filter id="bl" x="-30%" y="-60%" width="160%" height="220%"><feGaussianBlur stdDeviation="1.6"/></filter><filter id="bl2" x="-30%" y="-60%" width="160%" height="220%"><feGaussianBlur stdDeviation="2.2"/></filter></defs>
<text x="0.3" y="1424.3" font-size="30" font-weight="bold" fill="#111" stroke="#111" stroke-width="0.3">G</text>
<text x="178.9" y="1490" font-size="20.8" fill="#111" stroke="#111" stroke-width="0.3">SKBR3</text>
<line x1="137.2" y1="1501.7" x2="295.8" y2="1501.7" stroke="#111" stroke-width="2.8"/>
<text x="69.41" y="1532.7" font-size="21.2" fill="#111" stroke="#111" stroke-width="0.3">C29</text>
<text x="33.55" y="1565.8" font-size="21.5" fill="#111" stroke="#111" stroke-width="0.3">DNMT1</text>
<text x="33.55" y="1605.5" font-size="21.5" fill="#111" stroke="#111" stroke-width="0.3">DNMT1</text>
<text x="38.11" y="1652.7" font-size="21.4" fill="#111" stroke="#111" stroke-width="0.3">Tubulin</text>
<line x1="139.6" y1="1525.8" x2="149" y2="1525.8" stroke="#151515" stroke-width="3"/>
<path d="M206.1 1527H223.5M214.8 1518.3V1535.7" stroke="#151515" stroke-width="3" fill="none"/>
<path d="M278.8 1527H296.2M287.5 1518.3V1535.7" stroke="#151515" stroke-width="3" fill="none"/>
<line x1="139.6" y1="1559.2" x2="149" y2="1559.2" stroke="#151515" stroke-width="3"/>
<line x1="209" y1="1559.2" x2="218.4" y2="1559.2" stroke="#151515" stroke-width="3"/>
<path d="M278.8 1560H296.2M287.5 1551.3V1568.7" stroke="#151515" stroke-width="3" fill="none"/>
<text x="321.9" y="1565.8" font-size="18.8" fill="#111" stroke="#111" stroke-width="0.3">kDa</text>
<rect x="115.4" y="1576.9" width="200.8" height="41" fill="#8d8d8d" stroke="#111" stroke-width="1.5"/>
<rect x="115.4" y="1626.9" width="200.8" height="40.6" fill="#868686" stroke="#111" stroke-width="1.5"/>
<g filter="url(#bl)">
<rect x="131.3" y="1593.3" width="39.8" height="7.2" rx="3.6" fill="#080808"/>
<rect x="202.3" y="1592.8" width="36" height="4.8" rx="2.4" fill="#262626" opacity="0.82" transform="rotate(-4.3 220.2 1595.2)"/>
<rect x="269.8" y="1588.5" width="37.4" height="10.4" rx="5.2" fill="#040404"/>
</g>
<g filter="url(#bl2)">
<rect x="128.3" y="1640.3" width="35.2" height="15.6" rx="9.5" ry="7.8" fill="#000"/>
<rect x="200.6" y="1640.4" width="33" height="16" rx="9.5" ry="8" fill="#000"/>
<rect x="266.6" y="1639.6" width="35.6" height="18.6" rx="11" ry="9.3" fill="#000"/>
</g>
<line x1="317" y1="1593.3" x2="322" y2="1593.3" stroke="#111" stroke-width="1.5"/>
<line x1="317" y1="1648.3" x2="322" y2="1648.3" stroke="#111" stroke-width="1.5"/>
<text x="327" y="1598.2" font-size="18.3" fill="#111" stroke="#111" stroke-width="0.3">180</text>
<text x="327" y="1653" font-size="18.3" fill="#111" stroke="#111" stroke-width="0.3">55</text>
<text x="379.3" y="1428" font-size="30" font-weight="bold" fill="#111" stroke="#111" stroke-width="0.3">H</text>
<text x="579.07" y="1420" font-size="21" fill="#111" stroke="#111" stroke-width="0.3">SKBR3</text>
<path d="M508.3 1467.6V1718H722M503.8 1467.6H508.3M503.8 1517.68H508.3M503.8 1567.76H508.3M503.8 1617.84H508.3M503.8 1667.92H508.3M503.8 1718H508.3" stroke="#999" stroke-width="1.4" fill="none"/>
<text x="452.56" y="1476.6" font-size="23.5" fill="#111" stroke="#111" stroke-width="0.3">0.16</text>
<text x="452.56" y="1526.68" font-size="23.5" fill="#111" stroke="#111" stroke-width="0.3">0.14</text>
<text x="452.56" y="1576.76" font-size="23.5" fill="#111" stroke="#111" stroke-width="0.3">0.12</text>
<text x="452.56" y="1626.84" font-size="23.5" fill="#111" stroke="#111" stroke-width="0.3">0.08</text>
<text x="452.56" y="1676.92" font-size="23.5" fill="#111" stroke="#111" stroke-width="0.3">0.04</text>
<text x="485.23" y="1727" font-size="23.5" fill="#111" stroke="#111" stroke-width="0.3">0</text>
<rect x="537.8" y="1490.1" width="53" height="227.9" fill="#a3a3a1" stroke="#111" stroke-width="1.5"/>
<rect x="590.8" y="1550.2" width="51.3" height="167.8" fill="#df8446" stroke="#111" stroke-width="1.5"/>
<rect x="642.1" y="1509.5" width="52.5" height="208.5" fill="#fff" stroke="#111" stroke-width="1.5"/>
<path d="M564.3 1490.1V1471.1M557.2 1471.1H571.4" stroke="#111" stroke-width="1.6" fill="none"/>
<path d="M616.9 1550.2V1526.3M609.8 1526.3H624" stroke="#111" stroke-width="1.6" fill="none"/>
<path d="M669 1509.5V1498M661.9 1498H676.1" stroke="#111" stroke-width="1.6" fill="none"/>
<text x="607.83" y="1527.86" font-size="21" fill="#111" letter-spacing="1" stroke="#111" stroke-width="0.3">**</text>
<text x="664.91" y="1500.56" font-size="21" fill="#111" stroke="#111" stroke-width="0.3">*</text>
<rect x="727.2" y="1443.6" width="19.1" height="19.1" fill="#a3a3a1" stroke="#111" stroke-width="1.6"/>
<rect x="727.2" y="1471" width="19.1" height="18.7" fill="#df8446" stroke="#111" stroke-width="1.6"/>
<rect x="727.2" y="1498.3" width="19.1" height="18.7" fill="#fff" stroke="#111" stroke-width="1.6"/>
<text x="753.4" y="1459.6" font-size="20.5" fill="#111" stroke="#111" stroke-width="0.3">DMSO</text>
<text x="753.4" y="1487" font-size="20.5" fill="#111" stroke="#111" stroke-width="0.3">C29</text>
<text x="753.4" y="1514" font-size="20.5" fill="#111" stroke="#111" stroke-width="0.3">C29 + DNMT1</text>
<text x="501.75" y="1754.2" font-size="21" fill="#111" stroke="#111" stroke-width="0.3">5-methylCytosine m+1</text>
<text x="-145.09" y="0" font-size="23.8" fill="#111" stroke="#111" stroke-width="0.3" letter-spacing="-0.2" transform="translate(438 1589) rotate(-90)">Proportional Ion Abundance</text>
</g>
</svg>
</body></html>
